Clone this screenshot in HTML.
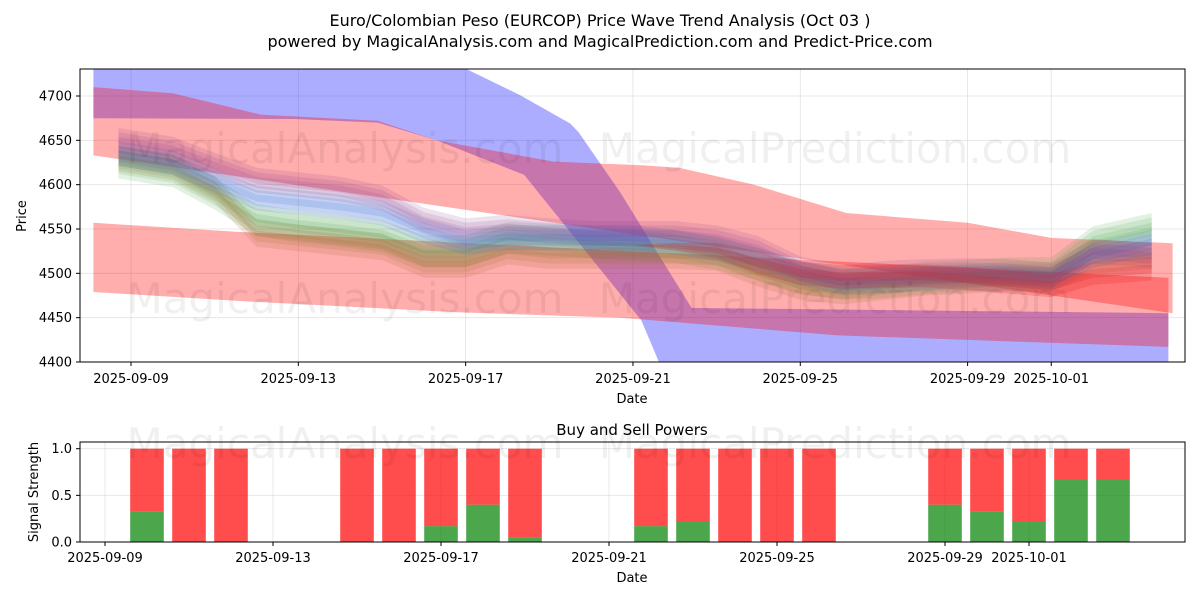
<!DOCTYPE html>
<html><head><meta charset="utf-8"><style>
body{margin:0;background:#fff;}
svg{display:block;font-family:"DejaVu Sans","Liberation Sans",sans-serif;}
</style></head><body>
<svg id="c" width="1200" height="600" viewBox="0 0 1200 600" xmlns="http://www.w3.org/2000/svg">
<text x="600" y="26" text-anchor="middle" font-size="16">Euro/Colombian Peso (EURCOP) Price Wave Trend Analysis (Oct 03 )</text>
<text x="600" y="47" text-anchor="middle" font-size="16">powered by MagicalAnalysis.com and MagicalPrediction.com and Predict-Price.com</text>
<defs>
<clipPath id="topclip"><rect x="80" y="69" width="1105" height="293"/></clipPath>
</defs>
<g id="topgrid"></g>
<g id="topplot" clip-path="url(#topclip)"></g>
<g id="topwm" font-size="42" fill="rgba(0,0,0,0.06)" text-anchor="middle">
<text x="345" y="163">MagicalAnalysis.com</text>
<text x="835" y="163">MagicalPrediction.com</text>
<text x="345" y="313">MagicalAnalysis.com</text>
<text x="835" y="313">MagicalPrediction.com</text>
</g>
<rect x="80" y="69" width="1105" height="293" fill="none" stroke="#000" stroke-width="1"/>
<g id="topaxes" font-size="13"></g>
<text x="632" y="403" text-anchor="middle" font-size="13">Date</text>
<text transform="translate(26,216) rotate(-90)" text-anchor="middle" font-size="13">Price</text>

<text x="632" y="435" text-anchor="middle" font-size="15">Buy and Sell Powers</text>
<g id="botgrid"></g>
<g id="botplot"></g>
<g font-size="42" fill="rgba(0,0,0,0.06)" text-anchor="middle">
<text x="345" y="458">MagicalAnalysis.com</text>
<text x="835" y="458">MagicalPrediction.com</text>
</g>
<rect x="80" y="442" width="1105" height="100" fill="none" stroke="#000" stroke-width="1"/>
<g id="botaxes" font-size="13"></g>
<text x="632" y="582" text-anchor="middle" font-size="13">Date</text>
<text transform="translate(38,492) rotate(-90)" text-anchor="middle" font-size="13">Signal Strength</text>
</svg>
<script>
// ---- top chart data (day offsets from 2025-09-09, price values) ----
const xTickLabels = ["2025-09-09","2025-09-13","2025-09-17","2025-09-21","2025-09-25","2025-09-29","2025-10-01"];
const xTickDays = [0,4,8,12,16,20,22];
const yTickValues = [4400,4450,4500,4550,4600,4650,4700];

const blueUpperDays = [-0.9,7.6,9.3,10.5,10.7,11.7,13.4,24.8];
const blueUpperVals = [4740,4740,4701,4669,4659,4591,4461,4455];
const blueLowerDays = [-0.9,3.9,5.9,7.3,9.4,12.2,12.8,24.8];
const blueLowerVals = [4675,4674,4670,4650,4611,4447,4380,4380];

const redAUpperDays = [-0.9,1.0,3.1,5.9,7.3,10.1,12.2,13.1,14.9,17.1,20.0,22.0,24.9];
const redAUpperVals = [4710,4703,4679,4672,4650,4626,4622,4619,4600,4568,4557,4540,4534];
const redALowerDays = [-0.9,24.9];
const redALowerVals = [4633,4455];

const redBUpperDays = [-0.9,2.5,24.8];
const redBUpperVals = [4557,4547,4495];
const redBLowerDays = [-0.9,2.9,7.8,11.7,16.9,24.8];
const redBLowerVals = [4479,4468,4456,4450,4430,4417];

const waveDays = [-0.3,1,2,3,4,5,6,7,8,9,10,11,12,13,14,15,16,17,18,19,20,21,22,23,24.4];
const purpleWave = [4650,4640,4622,4605,4600,4595,4585,4560,4548,4552,4548,4545,4545,4545,4540,4528,4505,4495,4500,4502,4503,4502,4498,4525,4520];
const blueWave   = [4635,4625,4605,4585,4580,4575,4568,4548,4535,4540,4540,4540,4540,4535,4528,4515,4500,4490,4492,4494,4495,4494,4492,4520,4535];
const greenWave  = [4625,4615,4590,4560,4553,4548,4542,4525,4525,4540,4538,4535,4532,4530,4522,4510,4495,4488,4490,4495,4497,4500,4500,4535,4550];
const brownWave  = [4630,4620,4595,4545,4540,4535,4530,4510,4510,4525,4520,4520,4520,4520,4518,4500,4485,4480,4485,4490,4492,4495,4495,4515,4520];
const redWaveDays = [12,13,14,15,16,17,18,19,20,21,22,23,24.4];
const redWave = [4532,4530,4526,4512,4500,4496,4497,4497,4494,4490,4486,4500,4505];

// ---- bottom chart data ----
const barDays = [1,2,3,6,7,8,9,10,13,14,15,16,17,20,21,22,23,24];
const buyPower = [0.33,0,0,0,0,0.17,0.4,0.05,0.17,0.22,0,0,0,0.4,0.33,0.22,0.67,0.67];
const sellPower = buyPower.map(b=>1-b);
const yTicksBottom = [0,0.5,1.0];
const yTickLabelsBottom = ["0.0","0.5","1.0"];

const NS="http://www.w3.org/2000/svg";
function mk(tag,attrs,parent){const e=document.createElementNS(NS,tag);for(const k in attrs)e.setAttribute(k,attrs[k]);parent.appendChild(e);return e;}

const xTop = d => 131 + d*41.83;
const yTop = v => 362 - (v-4400)*0.8867;
const xBot = d => 105 + d*42.0;
const yBot = v => 542 - v*93.3;

const topgrid=document.getElementById('topgrid');
const topplot=document.getElementById('topplot');
const topaxes=document.getElementById('topaxes');

xTickDays.forEach((d,i)=>{
  const x=xTop(d);
  const g=mk('line',{x1:x,x2:x,y1:69,y2:362,stroke:'#b0b0b0','stroke-opacity':0.35,'stroke-width':0.8},topgrid);
  
  
  const t=mk('line',{x1:x,x2:x,y1:362,y2:366,stroke:'#000'},topaxes);
  
  
  const l=mk('text',{x:x,y:383,'text-anchor':'middle'},topaxes);
  l.textContent=xTickLabels[i];
  
  
});
yTickValues.forEach(v=>{
  const y=yTop(v);
  const g=mk('line',{x1:80,x2:1185,y1:y,y2:y,stroke:'#b0b0b0','stroke-opacity':0.35,'stroke-width':0.8},topgrid);
  
  
  const t=mk('line',{x1:76,x2:80,y1:y,y2:y,stroke:'#000'},topaxes);
  
  
  const l=mk('text',{x:72,y:y+4.5,'text-anchor':'end'},topaxes);
  l.textContent=String(v);
  
  
});

function band(ud,uv,ld,lv,fill,op,name){
  const pts=[];
  for(let i=0;i<ud.length;i++)pts.push(xTop(ud[i]).toFixed(1)+','+yTop(uv[i]).toFixed(1));
  for(let i=ld.length-1;i>=0;i--)pts.push(xTop(ld[i]).toFixed(1)+','+yTop(lv[i]).toFixed(1));
  const p=mk('polygon',{points:pts.join(' '),fill:fill,'fill-opacity':op},topplot);
  
  
}
band(blueUpperDays,blueUpperVals,blueLowerDays,blueLowerVals,'#0000ff',0.32,'blue-trend-band');
band(redBUpperDays,redBUpperVals,redBLowerDays,redBLowerVals,'#ff0000',0.32,'red-lower-trend-band');
band(redAUpperDays,redAUpperVals,redALowerDays,redALowerVals,'#ff0000',0.32,'red-upper-trend-band');

function wave(days,vals,color,name,half,offs,op,taper){
  offs.forEach(o=>{
    const n=vals.length;
    const hw=vals.map((v,i)=>taper?half*Math.min(1,i/3):half);
    const up=vals.map((v,i)=>v+o*(taper?Math.min(1,i/3):1)+hw[i]);
    const lo=vals.map((v,i)=>v+o*(taper?Math.min(1,i/3):1)-hw[i]);
    band(days,up,days,lo,color,op,name);
  });
}
wave(waveDays,greenWave,'#3a9a3a','green-wave-band',10,[-8,-3,3,8],0.14,false);
wave(waveDays,brownWave,'#a06a2a','brown-wave-band',9,[-6,0,6],0.16,false);
wave(waveDays,blueWave,'#3a6ad8','blue-wave-band',9,[-5,0,5],0.16,false);
wave(waveDays,purpleWave,'#8a3a8a','purple-wave-band',9,[-5,0,5],0.15,false);
wave(redWaveDays,redWave,'#e02020','red-wave-band',9,[-4,4],0.22,true);

// ---- bottom chart ----
const botgrid=document.getElementById('botgrid');
const botplot=document.getElementById('botplot');
const botaxes=document.getElementById('botaxes');
xTickDays.forEach((d,i)=>{
  const x=xBot(d);
  const g=mk('line',{x1:x,x2:x,y1:442,y2:542,stroke:'#b0b0b0','stroke-opacity':0.35,'stroke-width':0.8},botgrid);
  
  
  const t=mk('line',{x1:x,x2:x,y1:542,y2:546,stroke:'#000'},botaxes);
  
  
  const l=mk('text',{x:x,y:562,'text-anchor':'middle'},botaxes);
  l.textContent=xTickLabels[i];
  
  
});
yTicksBottom.forEach((v,i)=>{
  const y=yBot(v);
  const g=mk('line',{x1:80,x2:1185,y1:y,y2:y,stroke:'#b0b0b0','stroke-opacity':0.35,'stroke-width':0.8},botgrid);
  
  
  const t=mk('line',{x1:76,x2:80,y1:y,y2:y,stroke:'#000'},botaxes);
  
  
  const l=mk('text',{x:72,y:y+4.5,'text-anchor':'end'},botaxes);
  l.textContent=yTickLabelsBottom[i];
  
  
});
const bw=0.8*42;
barDays.forEach((d,i)=>{
  const x=xBot(d)-bw/2;
  const b=buyPower[i], s=sellPower[i];
  if(b>0){
    const g=mk('rect',{x:x,y:yBot(b),width:bw,height:yBot(0)-yBot(b),fill:'#008000','fill-opacity':0.7},botplot);
    
    
  }
  const r=mk('rect',{x:x,y:yBot(b+s),width:bw,height:yBot(b)-yBot(b+s),fill:'#ff0000','fill-opacity':0.7},botplot);
  
  
});
</script>
</body></html>
